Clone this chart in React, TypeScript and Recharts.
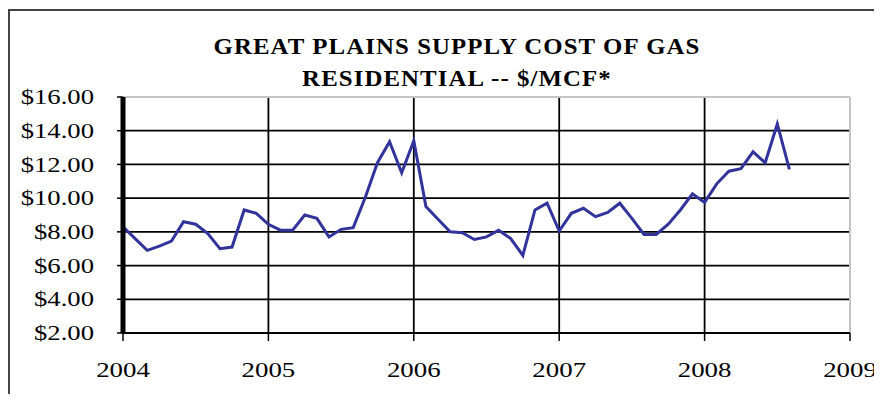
import React from "react";
import { LineChart, Line, XAxis, YAxis, CartesianGrid, ReferenceLine } from "recharts";

const startYear = 2004;
// Monthly cost, Jan 2004 – Aug 2008 ($/MCF)
const costs = [
  8.3, 7.6, 6.9, 7.15, 7.45, 8.6, 8.45, 7.9, 7.0, 7.1, 9.3, 9.1,
  8.45, 8.1, 8.1, 9.0, 8.8, 7.7, 8.15, 8.25, 10.05, 12.1, 13.35, 11.5,
  13.4, 9.5, 8.75, 8.0, 7.95, 7.55, 7.7, 8.1, 7.6, 6.6, 9.3, 9.7,
  8.05, 9.1, 9.4, 8.9, 9.15, 9.7, 8.8, 7.85, 7.85, 8.45, 9.3, 10.25,
  9.75, 10.85, 11.6, 11.75, 12.75, 12.1, 14.4, 11.7,
];
const yearTicks = [2004, 2005, 2006, 2007, 2008, 2009];
const innerYears = [2005, 2006, 2007, 2008];
const priceTicks = [2, 4, 6, 8, 10, 12, 14, 16];
const innerPrices = [4, 6, 8, 10, 12, 14];
const titleLines = ["GREAT PLAINS SUPPLY COST OF GAS", "RESIDENTIAL -- $/MCF*"];

const data = costs.map((c, i) => ({ t: startYear + i / 12, cost: c }));

const FONT = "'Liberation Serif', 'Times New Roman', serif";

const YTick = (props: any) => {
  const { x, y, payload } = props;
  return (
    <g transform={`translate(${x - 21},${y})`}>
      <text transform="scale(1.27,1)" textAnchor="end" dy="0.34em" fontSize={21} fontFamily={FONT} fill="#000">
        {`$${Number(payload.value).toFixed(2)}`}
      </text>
    </g>
  );
};

const XTick = (props: any) => {
  const { x, y, payload } = props;
  return (
    <g transform={`translate(${x},${y + 34})`}>
      <text transform="scale(1.28,1)" textAnchor="middle" fontSize={21} fontFamily={FONT} fill="#000">
        {payload.value}
      </text>
    </g>
  );
};

const pageCss =
  "html,body{overflow:hidden;scrollbar-width:none}" +
  "::-webkit-scrollbar{display:none;width:0;height:0}";

export default function App() {
  return (
    <div style={{ position: "relative", width: 874, height: 386, background: "#fff" }}>
      <style>{pageCss}</style>
      <div
        style={{
          position: "absolute",
          left: 0,
          top: 1,
          width: 874,
          height: 385,
          borderLeft: "2px solid #444",
          borderTop: "2px solid #444",
          boxSizing: "border-box",
        }}
      />
      {titleLines.map((t, i) => (
        <div
          key={i}
          style={{
            position: "absolute",
            left: 24,
            top: 27.4 + i * 32,
            width: 850,
            textAlign: "center",
            fontFamily: FONT,
            fontWeight: "bold",
            fontSize: 23,
            lineHeight: "23px",
            letterSpacing: 1,
            transform: "scaleX(1.08)",
            whiteSpace: "nowrap",
            color: "#000",
          }}
        >
          {t}
        </div>
      ))}
      <div style={{ position: "absolute", left: 0, top: 0 }}>
        <LineChart
          width={874}
          height={386}
          data={data}
          margin={{ top: 89, right: 32, bottom: 21, left: 0 }}
        >
          <CartesianGrid
            stroke="#000"
            strokeWidth={1.8}
            horizontalValues={innerPrices}
            verticalValues={innerYears}
          />
          <ReferenceLine y={16} stroke="#c4c4c4" strokeWidth={2} />
          <ReferenceLine x={2009} stroke="#c4c4c4" strokeWidth={2} />
          <XAxis
            type="number"
            dataKey="t"
            domain={[2004, 2009]}
            ticks={yearTicks}
            interval={0}
            height={40}
            tickSize={8}
            axisLine={{ stroke: "#000", strokeWidth: 1.8 }}
            tickLine={{ stroke: "#000", strokeWidth: 1.5 }}
            tick={<XTick />}
          />
          <YAxis
            type="number"
            domain={[2, 16]}
            ticks={priceTicks}
            interval={0}
            width={115}
            tickSize={6}
            axisLine={{ stroke: "#000", strokeWidth: 5 }}
            tickLine={{ stroke: "#000", strokeWidth: 1.5 }}
            tick={<YTick />}
          />
          <Line
            type="linear"
            dataKey="cost"
            stroke="#33339c"
            strokeWidth={3}
            dot={false}
            isAnimationActive={false}
          />
        </LineChart>
      </div>
    </div>
  );
}
